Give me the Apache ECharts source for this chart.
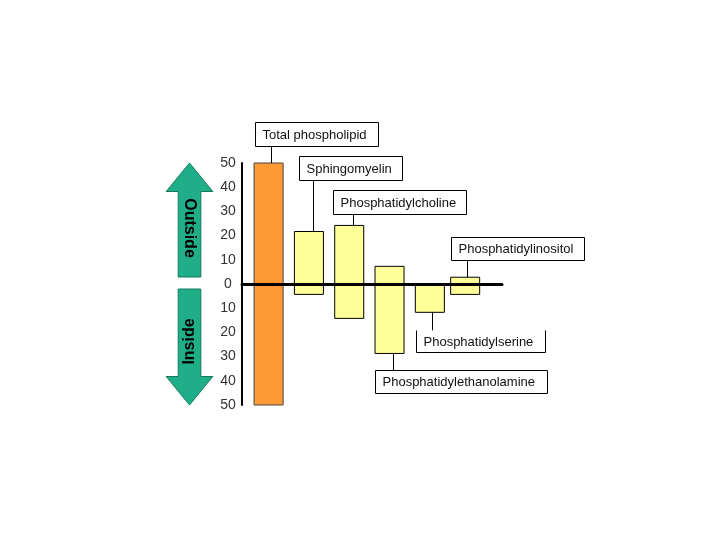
<!DOCTYPE html>
<html><head><meta charset="utf-8">
<script src="https://cdn.jsdelivr.net/npm/echarts@6/dist/echarts.min.js"></script>
<style>html,body{margin:0;padding:0;background:#fff}#c{width:720px;height:540px}</style>
</head><body><div id="c"></div>
<script>
// ---- data ----
var categories = ['Total phospholipid','Sphingomyelin','Phosphatidylcholine','Phosphatidylethanolamine','Phosphatidylserine','Phosphatidylinositol'];
var outsideValues = [50, 21.7, 24.2, 7.3, 0, 2.8];    // top of each box (outer leaflet)
var insideValues  = [-50, -4.3, -14.2, -28.7, -11.7, -4.3]; // bottom of each box (inner leaflet)
var tickValues = [50,40,30,20,10,0,-10,-20,-30,-40,-50];

// ---- layout / style (not data) ----
var barColors = ['#FF9933','#FFFF99','#FFFF99','#FFFF99','#FFFF99','#FFFF99'];
var barShift = [0,0,0,0,0,-5];
var labelSide = ['top','top','top','bottom','bottom','top'];
var connLen = [17, 51, 11, 17, 18, 17];
var connDx = [2.5, 3.7, 4, 3.7, 2.3, 2.3];
var boxDx = [-17, -14.4, -20.4, -18.4, -17, -17];
var boxW = [123, 103, 133, 172, 129, 133];
var boxH = [24, 24, 24, 23, 22, 23];
var boxOpenTop = [false,false,false,false,true,false];

var chart = echarts.init(document.getElementById('c'), null, {renderer:'canvas'});
var FONT = '"Liberation Sans", Arial, sans-serif';

var seriesData = categories.map(function(c,i){ return [i, outsideValues[i], insideValues[i]]; });

function renderItem(params, api){
  var i = params.dataIndex;
  var pTop = api.coord([api.value(0), api.value(1)]);
  var pBot = api.coord([api.value(0), api.value(2)]);
  var w = api.size([0.72, 0])[0];
  var cx = pTop[0] + barShift[i];
  var children = [];
  children.push({type:'rect', shape:{x:cx-w/2, y:pTop[1], width:w, height:pBot[1]-pTop[1]},
    style:{fill:barColors[i], stroke: i===0 ? '#444' : '#000', lineWidth:1}});
  var lx = Math.round(cx + connDx[i]) + 0.5;
  var y1, y2, bTop;
  if (labelSide[i] === 'top') { y1 = pTop[1]; y2 = pTop[1] - connLen[i]; bTop = y2 - boxH[i]; }
  else { y1 = pBot[1]; y2 = pBot[1] + connLen[i]; bTop = y2; }
  children.push({type:'line', shape:{x1:lx, y1:y1, x2:lx, y2:y2}, style:{stroke:'#000', lineWidth:1}});
  var bl = Math.round(lx + boxDx[i]) + 0.5;
  var bt = Math.round(bTop) + 0.5;
  if (boxOpenTop[i]) {
    children.push({type:'polyline', shape:{points:[[bl,bt],[bl,bt+boxH[i]],[bl+boxW[i],bt+boxH[i]],[bl+boxW[i],bt]]},
      style:{stroke:'#000', lineWidth:1, fill:null}});
  } else {
    children.push({type:'rect', shape:{x:bl, y:bt, width:boxW[i], height:boxH[i]},
      style:{fill:'#fff', stroke:'#000', lineWidth:1}});
  }
  children.push({type:'text', style:{text:categories[i], x:bl+7, y:bt+boxH[i]/2+0.5,
    fill:'#111', font:'13px '+FONT, textAlign:'left', textVerticalAlign:'middle'}});
  return {type:'group', children:children};
}

chart.setOption({
  animation:false,
  backgroundColor:'#fff',
  grid:{left:242, right:218, top:163, bottom:135, containLabel:false},
  xAxis:{type:'value', min:-0.66, max:5.79, z:10,
    axisLine:{show:true, onZero:true, lineStyle:{color:'#000', width:3}},
    axisTick:{show:false}, axisLabel:{show:false}, splitLine:{show:false}},
  yAxis:{type:'value', min:-50, max:50, interval:10, z:10,
    axisLine:{show:true, onZero:false, lineStyle:{color:'#000', width:2}},
    axisTick:{show:false}, splitLine:{show:false},
    axisLabel:{align:'center', margin:14, color:'#333', fontSize:14, fontFamily:FONT,
      formatter:function(v){ return String(Math.abs(v)); }}},
  series:[{type:'custom', renderItem:renderItem, data:seriesData, clip:false, z:2}]
});

// arrows positioned from the axis scale
var yTop = chart.convertToPixel({yAxisIndex:0}, tickValues[0]);
var yZero = chart.convertToPixel({yAxisIndex:0}, 0);
var yBot = chart.convertToPixel({yAxisIndex:0}, tickValues[tickValues.length-1]);
var ax = 189.5, hw = 23.3, sw = 11.3, hh = 28.5;
var green = '#20AE88', gStroke = '#137a5c';
chart.setOption({graphic:[
  {type:'polygon', shape:{points:[[ax,yTop],[ax+hw,yTop+hh],[ax+sw,yTop+hh],[ax+sw,yZero-7],[ax-sw,yZero-7],[ax-sw,yTop+hh],[ax-hw,yTop+hh]]},
    style:{fill:green, stroke:gStroke, lineWidth:1}},
  {type:'polygon', shape:{points:[[ax,yBot],[ax+hw,yBot-hh],[ax+sw,yBot-hh],[ax+sw,yZero+5],[ax-sw,yZero+5],[ax-sw,yBot-hh],[ax-hw,yBot-hh]]},
    style:{fill:green, stroke:gStroke, lineWidth:1}},
  {type:'text', x:ax, y:228, rotation:-Math.PI/2,
    style:{text:'Outside', fill:'#000', font:'bold 16px '+FONT, textAlign:'center', textVerticalAlign:'middle'}},
  {type:'text', x:ax, y:341.5, rotation:Math.PI/2,
    style:{text:'Inside', fill:'#000', font:'bold 16px '+FONT, textAlign:'center', textVerticalAlign:'middle'}}
]});
</script></body></html>
